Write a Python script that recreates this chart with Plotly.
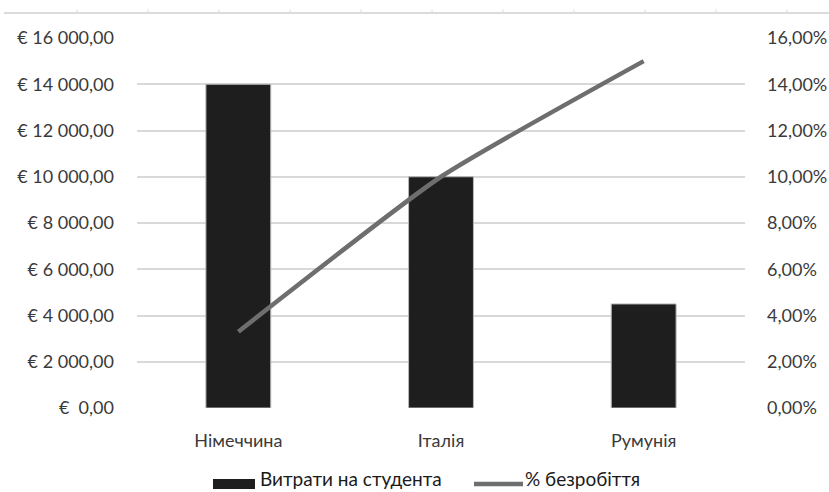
import plotly.graph_objects as go

# Data
countries = ["Німеччина", "Італія", "Румунія"]
spend_per_student = [14000, 10000, 4500]          # EUR
unemployment = [0.033, 0.10, 0.15]                # share

left_ticks = [0, 2000, 4000, 6000, 8000, 10000, 12000, 14000, 16000]
left_labels = ["€\u00a0\u00a00,00", "€ 2\u00a0000,00", "€ 4\u00a0000,00", "€ 6\u00a0000,00",
               "€ 8\u00a0000,00", "€ 10\u00a0000,00", "€ 12\u00a0000,00", "€ 14\u00a0000,00",
               "€ 16\u00a0000,00"]
right_ticks = [0, 0.02, 0.04, 0.06, 0.08, 0.10, 0.12, 0.14, 0.16]
right_labels = ["0,00%", "2,00%", "4,00%", "6,00%", "8,00%", "10,00%", "12,00%", "14,00%", "16,00%"]

W, H = 829, 492
L, R, T, B = 137, 84, 38, 84
FONT = "Lato"
FS = 18
TEXT = "#3a3a3a"
BAR_COLOR = "#1e1e1e"
LINE_COLOR = "#6e6e6e"

fig = go.Figure()
fig.add_trace(go.Bar(
    x=countries, y=spend_per_student, name="Витрати на студента",
    marker=dict(color=BAR_COLOR, line=dict(color="#b8b8b8", width=1)),
    yaxis="y",
))
fig.add_trace(go.Scatter(
    x=countries, y=unemployment, name="% безробіття", mode="lines",
    line=dict(color=LINE_COLOR, width=4.5, shape="spline", smoothing=0.5),
    yaxis="y2",
))

pw = W - L - R
ph = H - T - B


def px_x(x):
    return (x - L) / pw


def px_y(y):
    return (H - B - y) / ph


# thin ruler line running along the top of the page
shapes = [dict(type="line", xref="paper", yref="paper",
               x0=px_x(4), x1=px_x(829), y0=px_y(13), y1=px_y(13),
               line=dict(color="#cfcfcf", width=1.5))]
for tx in range(77, 829, 71):
    shapes.append(dict(type="line", xref="paper", yref="paper",
                       x0=px_x(tx), x1=px_x(tx), y0=px_y(13), y1=px_y(9.5),
                       line=dict(color="#dcdcdc", width=1)))

# legend drawn below the plot: wide bar swatch + line swatch
shapes.append(dict(type="rect", xref="paper", yref="paper",
                   x0=px_x(213), x1=px_x(255), y0=px_y(479), y1=px_y(489),
                   fillcolor=BAR_COLOR, line=dict(width=0)))
shapes.append(dict(type="line", xref="paper", yref="paper",
                   x0=px_x(474), x1=px_x(523), y0=px_y(484), y1=px_y(484),
                   line=dict(color=LINE_COLOR, width=4.5)))
annotations = [
    dict(text="Витрати на студента", xref="paper", yref="paper",
         x=px_x(258), y=px_y(492), xanchor="left", yanchor="bottom",
         showarrow=False, font=dict(family=FONT, size=19, color="#1a1a1a")),
    dict(text="% безробіття", xref="paper", yref="paper",
         x=px_x(523), y=px_y(492), xanchor="left", yanchor="bottom",
         showarrow=False, font=dict(family=FONT, size=19, color="#1a1a1a")),
]

fig.update_layout(
    width=W, height=H,
    margin=dict(l=L, r=R, t=T, b=B, autoexpand=False),
    paper_bgcolor="white", plot_bgcolor="white",
    font=dict(family=FONT, size=FS, color=TEXT),
    bargap=0.68,
    showlegend=False,
    xaxis=dict(showgrid=False, showline=False, ticks="", tickfont=dict(size=FS, color=TEXT),
               ticklabelstandoff=20),
    yaxis=dict(range=[0, 16000], tickvals=left_ticks, ticktext=left_labels,
               showgrid=True, gridcolor="#d9d9d9", gridwidth=1.6, zeroline=False,
               showline=False, ticks="", ticklabelstandoff=22,
               tickfont=dict(size=FS, color=TEXT)),
    yaxis2=dict(range=[0, 0.16], tickvals=right_ticks, ticktext=right_labels,
                overlaying="y", side="right", showgrid=False, zeroline=False,
                showline=False, ticks="", ticklabelstandoff=21,
                tickfont=dict(size=FS, color=TEXT)),
    shapes=shapes,
    annotations=annotations,
)

fig.write_html("out.html")
